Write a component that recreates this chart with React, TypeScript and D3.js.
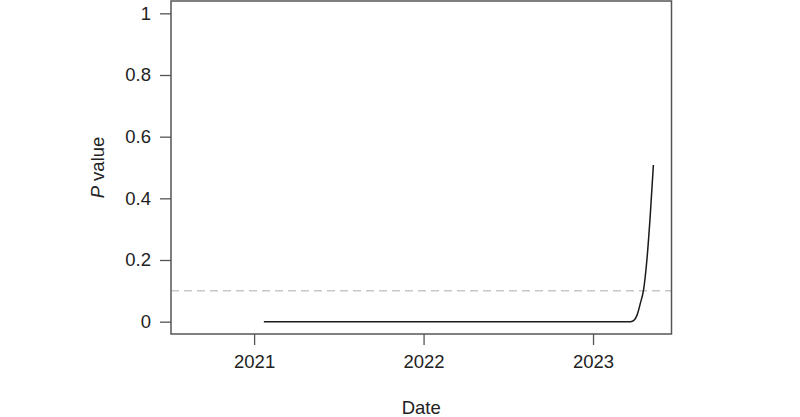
import React, { useEffect, useRef } from "react";
import * as d3 from "d3";

// weekly P values, flat near zero until spring 2023
const dates = [
  "2021-01-22",
  "2021-07-01",
  "2022-01-01",
  "2022-07-01",
  "2023-01-01",
  "2023-03-23",
  "2023-03-30",
  "2023-04-06",
  "2023-04-13",
  "2023-04-20",
  "2023-04-27",
  "2023-05-04",
  "2023-05-11",
];
const pValues = [0, 0, 0, 0, 0, 0, 0.004, 0.022, 0.06, 0.105, 0.2, 0.34, 0.508];

const yTicks = [0, 0.2, 0.4, 0.6, 0.8, 1];
const yTickLabels = ["0", "0.2", "0.4", "0.6", "0.8", "1"];
const xTickYears = ["2021", "2022", "2023"];
const threshold = 0.1;

const W = 800;
const H = 417;
const box = { left: 171, right: 671.5, top: 1, bottom: 334 };

const App = () => {
  const ref = useRef<SVGSVGElement>(null);

  useEffect(() => {
    drawChart();
  }, []);

  function drawChart() {
    const svg = d3.select(ref.current);
    svg.selectAll("*").remove();

    const parse = d3.utcParse("%Y-%m-%d");
    const data = dates.map((d, i) => ({ date: parse(d) as Date, value: pValues[i] }));

    const x = d3
      .scaleUtc()
      .domain([new Date(Date.UTC(2020, 6, 6)), new Date(Date.UTC(2023, 5, 19))])
      .range([box.left, box.right]);

    const y = d3.scaleLinear().domain([-0.04, 1.04]).range([box.bottom, box.top]);

    const font = "'Liberation Sans', Arial, sans-serif";
    const fs = 18.5;

    // threshold line
    svg
      .append("line")
      .attr("x1", box.left)
      .attr("x2", box.right)
      .attr("y1", y(threshold))
      .attr("y2", y(threshold))
      .attr("stroke", "#c8c8c8")
      .attr("stroke-width", 1.5)
      .attr("stroke-dasharray", "8,5");

    // the P value curve
    const line = d3
      .line<{ date: Date; value: number }>()
      .x((d) => x(d.date))
      .y((d) => y(d.value))
      .curve(d3.curveMonotoneX);

    svg
      .append("path")
      .datum(data)
      .attr("fill", "none")
      .attr("stroke", "#1a1a1a")
      .attr("stroke-width", 1.5)
      .attr("d", line);

    // plot frame
    svg
      .append("rect")
      .attr("x", box.left)
      .attr("y", box.top)
      .attr("width", box.right - box.left)
      .attr("height", box.bottom - box.top)
      .attr("fill", "none")
      .attr("stroke", "#555")
      .attr("stroke-width", 1.5);

    // y axis
    const yAxis = svg
      .append("g")
      .attr("transform", `translate(${box.left},0)`)
      .call(
        d3
          .axisLeft(y)
          .tickValues(yTicks)
          .tickFormat((d, i) => yTickLabels[i])
          .tickSize(11)
          .tickPadding(9)
      );
    yAxis.select(".domain").remove();
    yAxis.selectAll("line").attr("stroke", "#555").attr("stroke-width", 1.3);
    yAxis
      .selectAll("text")
      .attr("font-family", font)
      .attr("font-size", fs)
      .attr("fill", "#222");

    // x axis
    const xAxis = svg
      .append("g")
      .attr("transform", `translate(0,${box.bottom})`)
      .call(
        d3
          .axisBottom(x)
          .tickValues(xTickYears.map((yr) => new Date(Date.UTC(+yr, 0, 1))))
          .tickFormat((d, i) => xTickYears[i])
          .tickSize(11)
          .tickPadding(10)
      );
    xAxis.select(".domain").remove();
    xAxis.selectAll("line").attr("stroke", "#555").attr("stroke-width", 1.3);
    xAxis
      .selectAll("text")
      .attr("font-family", font)
      .attr("font-size", fs)
      .attr("fill", "#222");

    // axis titles
    svg
      .append("text")
      .attr("x", (box.left + box.right) / 2)
      .attr("y", 414)
      .attr("text-anchor", "middle")
      .attr("font-family", font)
      .attr("font-size", fs)
      .attr("fill", "#222")
      .text("Date");

    const yTitle = svg
      .append("text")
      .attr("transform", `translate(104,${(box.top + box.bottom) / 2}) rotate(-90)`)
      .attr("text-anchor", "middle")
      .attr("font-family", font)
      .attr("font-size", fs)
      .attr("fill", "#222");
    yTitle.append("tspan").attr("font-style", "italic").text("P");
    yTitle.append("tspan").text(" value");
  }

  return (
    <svg
      ref={ref}
      width={W}
      height={H}
      style={{ position: "absolute", left: 0, top: 0, background: "#fff" }}
    />
  );
};

export default App;
